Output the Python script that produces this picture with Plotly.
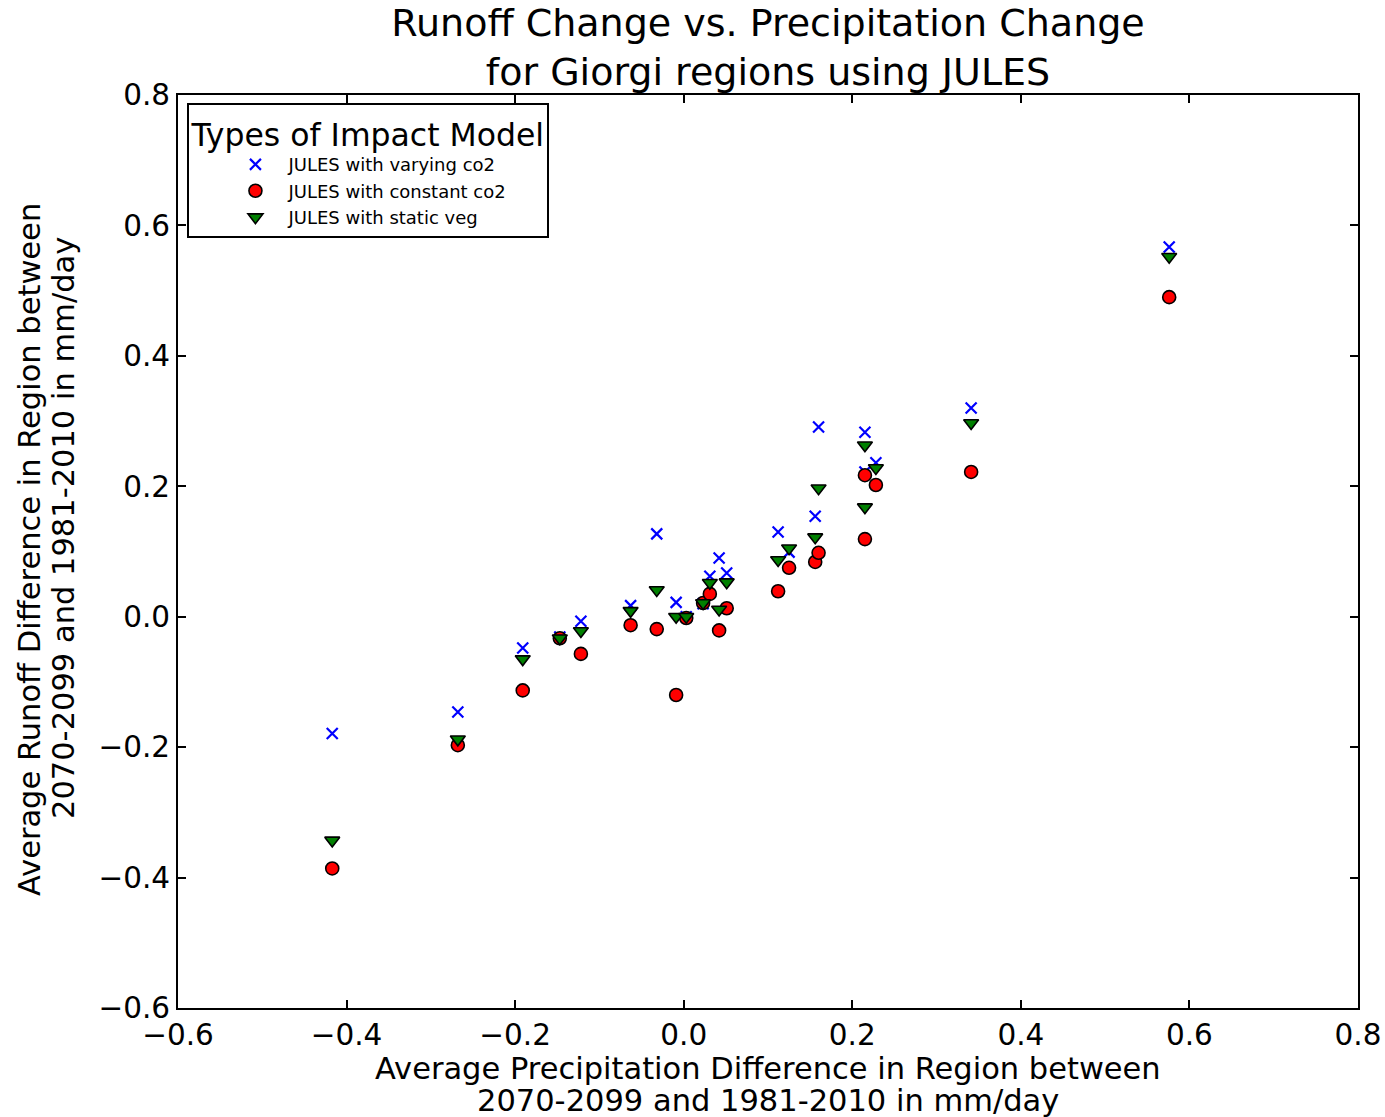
import plotly.graph_objects as go

# Area-mean precipitation change per Giorgi region (mm/day), 2070-2099 minus 1981-2010
precip_change = [-0.417, -0.268, -0.191, -0.147, -0.122, -0.063, -0.032, -0.009, 0.003,
                 0.023, 0.031, 0.042, 0.051, 0.112, 0.125, 0.156, 0.160, 0.215, 0.215,
                 0.228, 0.341, 0.576]

# Area-mean runoff change per region (mm/day) for each JULES configuration
runoff_varying_co2 = [-0.179, -0.146, -0.048, -0.031, -0.007, 0.017, 0.127, 0.022, 0.000,
                      0.020, 0.062, 0.090, 0.067, 0.130, 0.099, 0.154, 0.291, 0.283, 0.222,
                      0.236, 0.320, 0.567]
runoff_constant_co2 = [-0.386, -0.197, -0.113, -0.033, -0.057, -0.013, -0.019, -0.120, -0.002,
                       0.021, 0.035, -0.021, 0.013, 0.039, 0.075, 0.084, 0.098, 0.217, 0.119,
                       0.202, 0.222, 0.490]
runoff_static_veg = [-0.343, -0.188, -0.065, -0.033, -0.022, 0.009, 0.041, 0.000, 0.000,
                     0.021, 0.052, 0.011, 0.053, 0.087, 0.105, 0.122, 0.197, 0.263, 0.168,
                     0.228, 0.297, 0.552]

series_names = ["JULES with varying co2", "JULES with constant co2", "JULES with static veg"]
axis_ticks = [-0.6, -0.4, -0.2, 0.0, 0.2, 0.4, 0.6, 0.8]

x_label_lines = ["Average Precipitation Difference in Region between",
                 "2070-2099 and 1981-2010 in mm/day"]
y_label_lines = ["Average Runoff Difference in Region between",
                 "2070-2099 and 1981-2010 in mm/day"]

FONT = "DejaVu Sans"
W, H = 1385, 1117
ML, MR, MT, MB = 178, 27, 95, 109
PW, PH = W - ML - MR, H - MT - MB

fig = go.Figure()

fig.add_trace(go.Scatter(
    x=precip_change, y=runoff_varying_co2, mode="markers", name=series_names[0],
    marker=dict(symbol="x-thin", size=11, color="#0000ff",
                line=dict(color="#0000ff", width=2.2)),
))
fig.add_trace(go.Scatter(
    x=precip_change, y=runoff_constant_co2, mode="markers", name=series_names[1],
    marker=dict(symbol="circle", size=13, color="#ff0000",
                line=dict(color="black", width=1.6)),
))
fig.add_trace(go.Scatter(
    x=precip_change, y=runoff_static_veg, mode="markers", name=series_names[2],
    marker=dict(symbol="triangle-down", size=13, color="#008000",
                line=dict(color="black", width=1.6)),
))

axis_common = dict(
    range=[-0.6, 0.8], tickvals=axis_ticks, tickformat=".1f",
    showgrid=False, zeroline=False, automargin=False,
    showline=True, linecolor="black", linewidth=2, mirror="allticks",
    ticks="inside", ticklen=8, tickwidth=1.5, tickcolor="black",
    tickfont=dict(family=FONT, size=29.5, color="black"),
)

# Two-line axis labels, one annotation per line so the line spacing stays tight
label_font = dict(family=FONT, size=30.5, color="black")
annotations = []
x_label_rows = [1068, 1100]
for line, py in zip(x_label_lines, x_label_rows):
    annotations.append(dict(
        text=line, xref="paper", yref="paper",
        x=0.5, y=(H - MB - py) / PH, xanchor="center", yanchor="middle",
        showarrow=False, font=label_font,
    ))
y_label_cols = [(29, 550), (63, 528)]
for line, (px, py) in zip(y_label_lines, y_label_cols):
    annotations.append(dict(
        text=line, xref="paper", yref="paper",
        x=(px - ML) / PW, y=(H - MB - py) / PH, xanchor="center", yanchor="middle",
        textangle=-90, showarrow=False, font=label_font,
    ))

fig.update_layout(
    width=W, height=H,
    margin=dict(l=ML, r=MR, t=MT, b=MB),
    paper_bgcolor="white", plot_bgcolor="white",
    title=dict(
        text="Runoff Change vs. Precipitation Change<br>for Giorgi regions using JULES",
        x=(ML + PW / 2) / W, xanchor="center",
        y=1 - 36 / H, yanchor="bottom", yref="container",
        font=dict(family=FONT, size=38, color="black"),
    ),
    xaxis=axis_common,
    yaxis=axis_common,
    annotations=annotations,
    legend=dict(
        x=0.008, y=0.991, xanchor="left", yanchor="top",
        bgcolor="white", bordercolor="black", borderwidth=2,
        font=dict(family=FONT, size=18, color="black"),
        title=dict(text="Types of Impact Model", side="top",
                   font=dict(family=FONT, size=31.5, color="black")),
        indentation=33, itemwidth=56,
    ),
    showlegend=True,
)

fig.write_html("out.html")
